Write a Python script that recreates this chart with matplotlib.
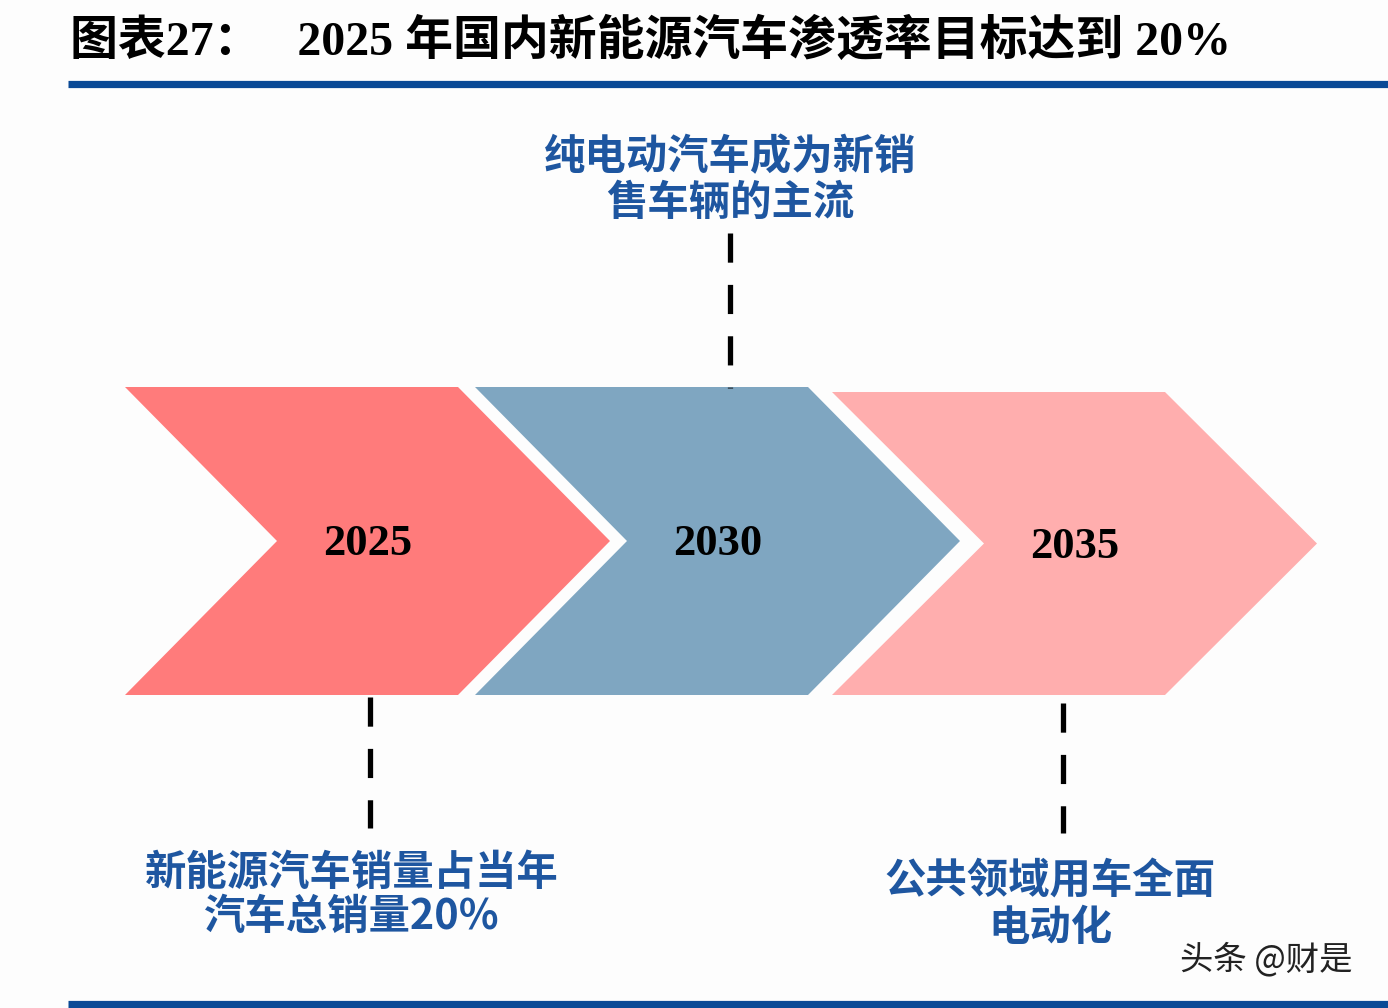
import numpy as np
import matplotlib.pyplot as plt
from matplotlib.patches import Polygon

plt.rcParams['lines.scale_dashes'] = False

# chart content
title = "图表27：   2025 年国内新能源汽车渗透率目标达到 20%"
years = ["2025", "2030", "2035"]
chevron_colors = ["#FF7B7B", "#7FA6C1", "#FFAEAE"]
milestones = [
    ["新能源汽车销量占当年", "汽车总销量20%"],
    ["纯电动汽车成为新销", "售车辆的主流"],
    ["公共领域用车全面", "电动化"],
]
watermark = "头条 @财是"

# layout in pixel space (y grows downward)
W, H = 1388, 1008
chev_left = [125, 475, 832]
chev_top = [387, 387, 392]
chev_bottom = [695, 695, 695]
chev_body = 333      # width of the flat part
chev_depth = 152     # depth of point / notch
year_y = [544, 544, 547]

# dashed connector lines: x, y_start, y_end
connectors = [(370, 697, 828), (730, 233, 388), (1063, 703, 833)]
label_x = [352, 730, 1050]
label_y = [[873, 917], [157, 203], [882, 928]]

blue = "#1E56A0"
cjk = ['Noto Sans CJK SC', 'DejaVu Sans']
serif_cjk = ['Liberation Serif', 'Noto Sans CJK SC']

fig = plt.figure(figsize=(W / 100, H / 100), dpi=100)
fig.patch.set_facecolor("#FDFDFD")
ax = fig.add_axes([0, 0, 1, 1])
ax.set_xlim(0, W)
ax.set_ylim(H, 0)
ax.axis('off')

# title and rules
ax.text(70, 42, title, fontsize=34.5, fontweight='bold', family=serif_cjk,
        ha='left', va='center', color='black')
ax.plot([68, W], [84, 84], color="#0A4A96", linewidth=5.2, solid_capstyle='butt')
ax.plot([68, W], [1004, 1004], color="#0A4A96", linewidth=5.2, solid_capstyle='butt')

# chevrons
for i, yr in enumerate(years):
    x0 = chev_left[i]
    t, b = chev_top[i], chev_bottom[i]
    mid = (t + b) / 2
    pts = [(x0, t), (x0 + chev_body, t), (x0 + chev_body + chev_depth, mid),
           (x0 + chev_body, b), (x0, b), (x0 + chev_depth, mid)]
    ax.add_patch(Polygon(pts, closed=True, facecolor=chevron_colors[i],
                         edgecolor='none'))
    ax.text(x0 + chev_depth + 91, year_y[i], yr, fontsize=32, fontweight='bold',
            family='Liberation Serif', ha='center', va='center', color='black')

# dashed connectors
for x, y1, y2 in connectors:
    ax.plot([x, x], [y1, y2], color='black', linewidth=3.8,
            dashes=(21, 16), dash_capstyle='butt')

# milestone labels
for i, lines in enumerate(milestones):
    for j, line in enumerate(lines):
        ax.text(label_x[i], label_y[i][j], line, fontsize=29.8, fontweight='bold',
                family=cjk, ha='center', va='center', color=blue)

ax.text(1266, 960, watermark, fontsize=24, family=cjk, ha='center',
        va='center', color='#222222')

fig.savefig("out.png", dpi=100, facecolor=fig.get_facecolor())
